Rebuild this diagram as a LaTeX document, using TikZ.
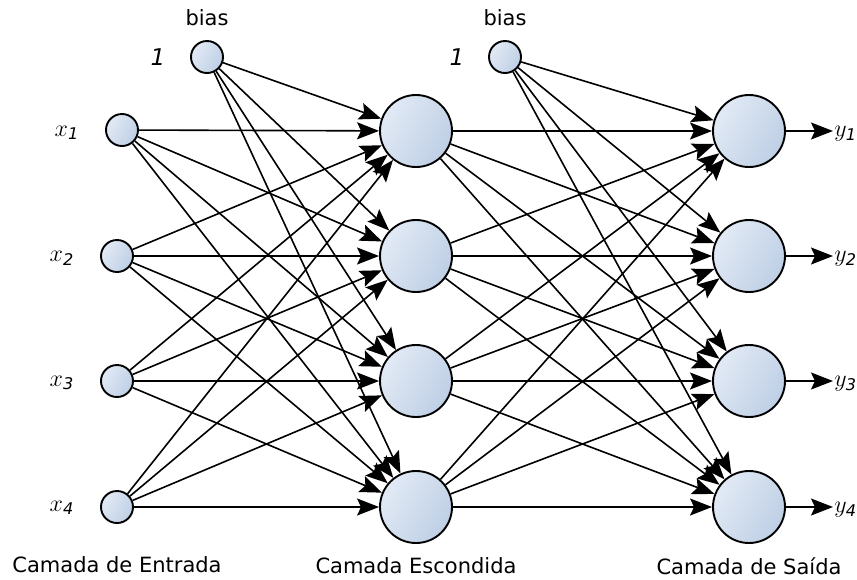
\documentclass[tikz,border=0pt]{standalone}
\usepackage{fontspec}
\setmainfont{DejaVu Sans}
\usetikzlibrary{arrows.meta}

\definecolor{neuronlight}{RGB}{226,234,245}
\definecolor{neurondark}{RGB}{190,207,229}

\begin{document}
\begin{tikzpicture}[x=0.5pt,y=-0.5pt]
\tikzstyle{neuron}=[circle,draw=black,line width=0.95pt,top color=neuronlight,bottom color=neurondark,shading angle=60,inner sep=0pt]
\tikzstyle{small}=[neuron,minimum size=16pt]
\tikzstyle{big}=[neuron,minimum size=36pt]
\tikzstyle{synapse}=[line width=0.8pt,-{Stealth[length=11pt,width=8.5pt,inset=2pt]}]
\tikzstyle{caption}=[font=\fontsize{10.5}{12}\selectfont]
\tikzstyle{varlabel}=[font=\fontsize{11.5}{13}\selectfont]

\useasboundingbox (0,0) rectangle (857,579);

%% ========== INPUT LAYER ==========
\node[small] (x1) at (122,130) {};
\node[small] (x2) at (117,256) {};
\node[small] (x3) at (117,381) {};
\node[small] (x4) at (117,507) {};
\node[small] (b1) at (207,57) {};

\node[varlabel] (lx1) at (67,133) {$x_{\mathit{1}}$};
\node[varlabel] (lx2) at (62,258) {$x_{\mathit{2}}$};
\node[varlabel] (lx3) at (62,383) {$x_{\mathit{3}}$};
\node[varlabel] (lx4) at (62,508) {$x_{\mathit{4}}$};
\node[varlabel] (lb1) at (158,57) {$\mathit{1}$};
\node[caption] (tb1) at (207,18) {bias};

%% ========== HIDDEN LAYER ==========
\node[big] (h1) at (416,131) {};
\node[big] (h2) at (416,256) {};
\node[big] (h3) at (416,381) {};
\node[big] (h4) at (416,507) {};
\node[small] (b2) at (505,57) {};

\node[varlabel] (lb2) at (457,57) {$\mathit{1}$};
\node[caption] (tb2) at (505,18) {bias};

%% ========== OUTPUT LAYER ==========
\node[big] (o1) at (749,131) {};
\node[big] (o2) at (749,256) {};
\node[big] (o3) at (749,381) {};
\node[big] (o4) at (749,507) {};

\node[varlabel,anchor=west,inner sep=0.5pt] (y1) at (833,134) {$y_{\mathit{1}}$};
\node[varlabel,anchor=west,inner sep=0.5pt] (y2) at (833,259) {$y_{\mathit{2}}$};
\node[varlabel,anchor=west,inner sep=0.5pt] (y3) at (833,384) {$y_{\mathit{3}}$};
\node[varlabel,anchor=west,inner sep=0.5pt] (y4) at (833,510) {$y_{\mathit{4}}$};

%% ========== CAPTIONS ==========
\node[caption] (cin) at (117,565) {Camada de Entrada};
\node[caption] (chid) at (416,566) {Camada Escondida};
\node[caption] (cout) at (749,566) {Camada de Saída};

%% ========== CONNECTIONS ==========
% input and bias to hidden
\foreach \s in {x1,x2,x3,x4,b1}
  \foreach \t in {h1,h2,h3,h4}
    \draw[synapse] (\s) -- (\t);

% hidden and bias to output
\foreach \s in {h1,h2,h3,h4,b2}
  \foreach \t in {o1,o2,o3,o4}
    \draw[synapse] (\s) -- (\t);

% outputs
\foreach \i in {1,2,3,4}
  \draw[synapse] (o\i) -- (o\i.east -| y\i.west);

\end{tikzpicture}
\end{document}
